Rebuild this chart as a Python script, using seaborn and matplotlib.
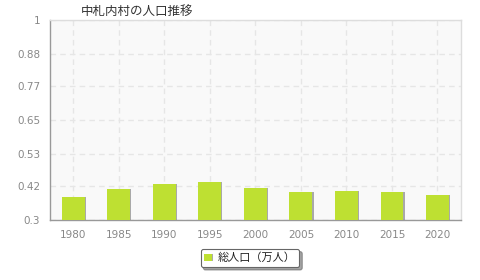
import matplotlib
matplotlib.use("Agg")
import matplotlib.pyplot as plt
import matplotlib.patheffects as pe
import seaborn as sns
import pandas as pd

years = ["1980", "1985", "1990", "1995", "2000", "2005", "2010", "2015", "2020"]
population = [0.381, 0.410, 0.427, 0.432, 0.411, 0.398, 0.401, 0.397, 0.389]
yticks = [0.3, 0.42, 0.53, 0.65, 0.77, 0.88, 1]
ytick_labels = ["0.3", "0.42", "0.53", "0.65", "0.77", "0.88", "1"]
title = "中札内村の人口推移"
series_name = "総人口（万人）"

sns.set_theme(style="white")
plt.rcParams['font.family'] = ['Noto Sans CJK JP', 'DejaVu Sans']

df = pd.DataFrame({"year": years, "pop": population, "series": series_name})

fig = plt.figure(figsize=(4.8, 2.8), dpi=100)
ax = fig.add_axes([50/480, 60/280, (460.7-50)/480, 200/280])
ax.set_facecolor("#f9f9f9")

sns.barplot(data=df, x="year", y="pop", hue="series", palette=["#bee032"],
            width=0.5, ax=ax, saturation=1, zorder=3, legend=True,
            linewidth=0, edgecolor="none")
for p in ax.patches:
    p.set_path_effects([pe.SimplePatchShadow(offset=(0.9, 0), shadow_rgbFace="#888888", alpha=0.7), pe.Normal()])

ax.set_ylim(0.3, 1)
ax.set_xlim(-0.51, len(years) - 0.49)
ax.set_yticks(yticks)
ax.set_yticklabels(ytick_labels)
ax.set_xlabel("")
ax.set_ylabel("")

ax.grid(True, axis="both", color="#e6e6e6", linestyle=(0, (4, 3)), linewidth=1, zorder=0)
ax.set_axisbelow(True)

for s in ["top", "right"]:
    ax.spines[s].set_color("#dddddd")
    ax.spines[s].set_linewidth(1)
for s in ["left", "bottom"]:
    ax.spines[s].set_color("#999999")
    ax.spines[s].set_linewidth(1)

ax.tick_params(axis="both", which="both", direction="out", length=4, width=1,
               color="#999999", labelcolor="#888888", labelsize=7.5, pad=3)
for lab in ax.get_xticklabels() + ax.get_yticklabels():
    lab.set_family(["DejaVu Sans"])

fig.text(137/480, 1 - 11/280, title, ha="center", va="center", fontsize=9, color="#333333")

leg = ax.legend(loc="center", bbox_to_anchor=(250/480, 1 - 258/280), bbox_transform=fig.transFigure,
                frameon=True, fancybox=True, shadow=True, fontsize=8, handlelength=0.7,
                handleheight=0.7, handletextpad=0.5, borderpad=0.35, markerscale=1)
leg.get_frame().set_edgecolor("#666666")
leg.get_frame().set_linewidth(0.8)
for t in leg.get_texts():
    t.set_color("#222222")

fig.savefig("out.png", dpi=100)
